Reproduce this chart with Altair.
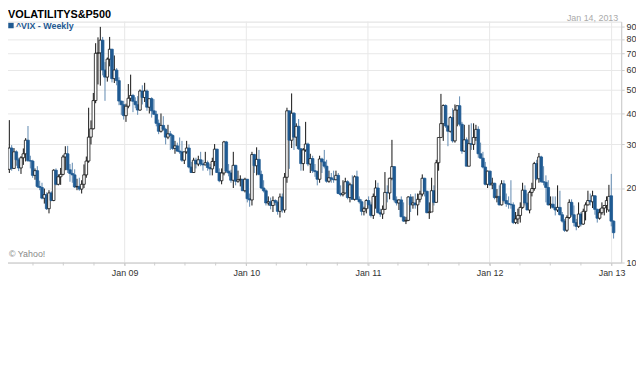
import altair as alt
import pandas as pd

# ---- weekly ^VIX candles (open, high, low, close) ----
first_week = "2008-01-21"

ohlc_2008 = [
    (23.8, 37.6, 23.0, 29.0), (29.0, 29.8, 23.5, 24.0), (24.0, 29.0, 23.9, 28.0),
    (28.0, 28.4, 24.6, 26.0), (26.0, 26.5, 23.4, 24.1), (24.1, 26.9, 22.8, 26.5),
    (26.5, 28.9, 24.8, 27.5), (27.5, 31.8, 25.6, 31.2), (31.2, 35.6, 25.5, 25.8),
    (25.8, 27.0, 24.0, 25.7), (25.7, 26.0, 22.0, 22.5), (22.5, 24.0, 21.6, 23.5),
    (23.5, 24.5, 20.0, 20.3), (20.3, 21.4, 19.6, 20.1), (20.1, 21.0, 18.0, 18.2),
    (18.2, 19.9, 17.3, 18.8), (18.8, 19.2, 16.3, 16.5), (16.5, 19.6, 15.8, 19.1),
    (19.1, 19.4, 17.7, 17.8), (17.8, 23.8, 17.7, 23.6), (23.6, 24.0, 20.5, 20.7),
    (20.7, 22.7, 20.5, 22.2), (22.2, 24.1, 20.6, 22.7), (22.7, 27.2, 22.5, 26.7),
    (26.7, 29.5, 23.6, 27.5), (27.5, 29.6, 23.0, 23.7), (23.7, 25.0, 21.2, 22.9),
    (22.9, 25.3, 21.0, 22.6), (22.6, 23.8, 20.0, 20.2), (20.2, 21.8, 19.6, 20.3),
    (20.3, 22.0, 19.5, 19.8), (19.8, 21.5, 19.0, 20.7), (20.7, 24.9, 20.0, 22.6),
    (22.6, 26.8, 22.0, 25.7), (25.7, 42.2, 25.3, 32.1), (32.1, 37.5, 30.0, 34.7),
    (34.7, 48.4, 34.5, 45.1), (45.1, 76.9, 44.0, 70.0), (70.0, 81.2, 52.4, 70.3),
    (70.3, 89.5, 51.8, 79.1), (79.1, 81.5, 57.0, 59.9), (59.9, 64.5, 45.0, 56.1),
    (56.1, 67.3, 53.8, 66.3), (66.3, 81.5, 62.0, 72.7), (72.7, 73.0, 53.4, 55.3),
    (55.3, 68.6, 53.1, 59.9), (59.9, 61.0, 52.0, 54.3), (54.3, 56.0, 43.2, 44.9),
    (44.9, 45.0, 39.5, 43.4), (43.4, 45.0, 37.8, 39.2),
]
ohlc_2009 = [
    (39.2, 43.8, 37.0, 42.8), (42.8, 52.6, 42.0, 46.1), (46.1, 57.4, 44.8, 47.3),
    (47.3, 48.0, 40.5, 44.8), (44.8, 46.5, 42.0, 43.4), (43.4, 47.0, 39.5, 41.3),
    (41.3, 50.0, 41.0, 49.3), (49.3, 52.0, 43.5, 46.4), (46.4, 53.2, 44.5, 49.3),
    (49.3, 50.0, 41.0, 42.4), (42.4, 46.0, 40.0, 45.9), (45.9, 46.5, 38.5, 41.0),
    (41.0, 45.7, 39.5, 39.7), (39.7, 41.0, 35.5, 36.5), (36.5, 37.8, 33.0, 33.9),
    (33.9, 40.0, 33.5, 35.8), (35.8, 39.0, 34.0, 34.5), (34.5, 35.0, 30.0, 32.1),
    (32.1, 36.0, 31.5, 33.1), (33.1, 34.0, 28.5, 32.6), (32.6, 33.0, 28.5, 28.9),
    (28.9, 31.0, 27.5, 29.6), (29.6, 30.5, 28.0, 28.2), (28.2, 32.0, 27.5, 28.0),
    (28.0, 31.0, 25.5, 25.9), (25.9, 28.0, 25.0, 28.0), (28.0, 31.0, 27.5, 29.0),
    (29.0, 30.0, 24.0, 24.3), (24.3, 25.5, 23.0, 23.1), (23.1, 26.5, 23.0, 25.9),
    (25.9, 26.5, 24.0, 25.0), (25.0, 27.0, 24.5, 26.0), (26.0, 28.0, 24.5, 25.0),
    (25.0, 26.0, 23.5, 24.8), (24.8, 28.0, 24.7, 25.3), (25.3, 25.8, 23.5, 24.2),
    (24.2, 25.0, 22.5, 23.9), (23.9, 26.5, 22.5, 25.6), (25.6, 30.1, 24.5, 28.7),
    (28.7, 28.8, 23.0, 23.1), (23.1, 24.0, 21.1, 21.4), (21.4, 24.0, 20.7, 23.0),
    (23.0, 31.0, 22.5, 30.7), (30.7, 31.0, 23.0, 23.4), (23.4, 25.0, 22.3, 23.0),
    (23.0, 23.7, 21.0, 21.5), (21.5, 28.0, 20.0, 24.7), (24.7, 24.8, 20.5, 21.3),
    (21.3, 23.5, 21.0, 21.6), (21.6, 22.5, 20.3, 21.7), (21.7, 21.7, 19.5, 19.5),
    (19.5, 22.0, 19.2, 21.7),
]
ohlc_2010 = [
    (21.7, 21.7, 17.5, 18.1), (18.1, 19.0, 16.8, 17.9), (17.9, 28.0, 17.0, 27.3),
    (27.3, 27.5, 23.0, 24.6), (24.6, 29.2, 22.5, 26.1), (26.1, 28.5, 22.5, 22.7),
    (22.7, 23.5, 19.8, 20.0), (20.0, 21.5, 19.2, 19.5), (19.5, 19.8, 17.0, 17.4),
    (17.4, 18.5, 17.0, 17.6), (17.6, 18.3, 16.4, 17.0), (17.0, 18.5, 16.0, 17.8),
    (17.8, 18.0, 17.0, 17.5), (17.5, 17.8, 15.6, 16.1), (16.1, 19.0, 15.2, 18.4),
    (18.4, 19.0, 15.9, 16.3), (16.3, 23.0, 15.9, 22.1), (22.1, 42.2, 21.0, 41.0),
    (41.0, 41.0, 23.9, 31.2), (31.2, 48.2, 29.0, 40.1), (40.1, 40.5, 28.5, 32.1),
    (32.1, 36.5, 29.5, 35.5), (35.5, 38.0, 28.5, 28.8), (28.8, 29.0, 23.5, 25.1),
    (25.1, 29.0, 23.5, 28.5), (28.5, 37.0, 28.0, 30.1), (30.1, 30.5, 24.5, 25.0),
    (25.0, 27.5, 23.0, 26.3), (26.3, 27.0, 23.0, 23.5), (23.5, 25.0, 22.2, 23.3),
    (23.3, 23.5, 20.5, 21.7), (21.7, 27.0, 21.0, 26.2), (26.2, 26.5, 23.0, 25.5),
    (25.5, 28.5, 24.0, 24.5), (24.5, 26.0, 21.0, 21.3), (21.3, 23.5, 21.0, 22.0),
    (22.0, 23.0, 21.0, 21.7), (21.7, 23.5, 21.0, 21.6), (21.6, 23.5, 21.5, 22.5),
    (22.5, 23.0, 18.9, 19.0), (19.0, 20.5, 18.5, 18.8), (18.8, 21.5, 18.5, 19.1),
    (19.1, 22.0, 19.0, 21.2), (21.2, 21.5, 18.0, 18.3), (18.3, 21.0, 17.5, 20.6),
    (20.6, 22.5, 18.0, 18.0), (18.0, 22.5, 17.8, 22.2), (22.2, 23.5, 17.9, 18.0),
    (18.0, 18.5, 17.3, 17.6), (17.6, 18.0, 15.5, 16.1), (16.1, 16.8, 15.5, 16.5),
    (16.5, 18.0, 15.8, 17.8),
]
ohlc_2011 = [
    (17.8, 18.5, 16.5, 17.1), (17.1, 17.5, 15.2, 15.5), (15.5, 19.0, 15.0, 18.5),
    (18.5, 21.5, 16.5, 20.0), (20.0, 21.0, 15.8, 15.9), (15.9, 16.5, 15.3, 15.7),
    (15.7, 17.0, 15.0, 16.4), (16.4, 23.2, 16.3, 19.2), (19.2, 20.5, 17.5, 19.1),
    (19.1, 22.0, 18.0, 21.9), (21.9, 31.3, 21.5, 24.4), (24.4, 24.5, 17.5, 17.9),
    (17.9, 18.5, 17.0, 17.4), (17.4, 18.0, 16.3, 17.9), (17.9, 18.5, 15.3, 15.3),
    (15.3, 17.5, 14.6, 14.7), (14.7, 15.3, 14.3, 14.8), (14.8, 18.5, 14.7, 18.4),
    (18.4, 18.9, 16.0, 17.1), (17.1, 18.5, 16.5, 17.4), (17.4, 19.0, 16.5, 17.1),
    (17.1, 19.0, 15.5, 18.0), (18.0, 19.5, 17.5, 18.9), (18.9, 22.7, 18.5, 21.9),
    (21.9, 22.0, 18.5, 19.4), (19.4, 19.5, 15.8, 15.9), (15.9, 17.5, 15.0, 16.0),
    (16.0, 22.0, 16.0, 19.5), (19.5, 20.5, 17.0, 17.5), (17.5, 26.0, 17.5, 25.3),
    (25.3, 32.0, 23.5, 32.0), (32.0, 48.0, 32.0, 36.4), (36.4, 43.5, 31.0, 43.1),
    (43.1, 43.5, 35.0, 35.6), (35.6, 36.0, 29.5, 33.9), (33.9, 39.0, 33.5, 38.5),
    (38.5, 42.0, 30.5, 31.0), (31.0, 43.5, 30.5, 41.3), (41.3, 43.0, 35.5, 43.0),
    (43.0, 46.9, 35.5, 36.2), (36.2, 37.0, 27.5, 28.2), (28.2, 36.0, 28.0, 31.3),
    (31.3, 32.0, 24.5, 24.5), (24.5, 36.0, 24.5, 30.2), (30.2, 36.5, 28.5, 30.0),
    (30.0, 36.5, 28.5, 32.0), (32.0, 36.0, 31.0, 34.5), (34.5, 35.5, 26.5, 27.5),
    (27.5, 30.5, 26.3, 26.4), (26.4, 28.0, 24.0, 24.3), (24.3, 25.5, 20.5, 20.7),
    (20.7, 23.5, 20.0, 23.4),
]
ohlc_2012 = [
    (23.4, 23.5, 20.4, 20.6), (20.6, 22.0, 19.8, 20.9), (20.9, 21.0, 18.0, 18.3),
    (18.3, 19.8, 17.5, 18.5), (18.5, 20.5, 17.0, 17.1), (17.1, 21.5, 17.0, 20.8),
    (20.8, 21.5, 17.5, 17.8), (17.8, 19.0, 16.8, 17.3), (17.3, 18.5, 16.5, 17.2),
    (17.2, 21.5, 16.5, 17.1), (17.1, 17.5, 14.3, 14.5), (14.5, 16.0, 14.3, 15.0),
    (15.0, 16.5, 14.3, 15.5), (15.5, 17.5, 14.5, 16.7), (16.7, 21.0, 16.5, 19.6),
    (19.6, 20.5, 17.0, 17.4), (17.4, 19.0, 16.3, 16.3), (16.3, 19.5, 15.8, 19.2),
    (19.2, 21.0, 18.5, 19.9), (19.9, 25.5, 19.5, 25.1), (25.1, 26.0, 21.5, 21.8),
    (21.8, 27.7, 21.0, 26.7), (26.7, 27.0, 21.0, 21.2), (21.2, 24.5, 20.5, 21.1),
    (21.1, 22.5, 17.5, 20.1), (20.1, 21.5, 17.0, 17.1), (17.1, 18.5, 16.5, 17.2),
    (17.2, 18.5, 16.5, 16.7), (16.7, 18.5, 15.5, 16.3), (16.3, 20.5, 16.0, 16.7),
    (16.7, 19.5, 15.5, 15.6), (15.6, 16.0, 14.5, 14.7), (14.7, 15.0, 13.3, 13.5),
    (13.5, 15.5, 13.3, 15.2), (15.2, 18.0, 15.0, 17.5), (17.5, 18.0, 15.3, 15.6),
    (15.6, 17.0, 14.0, 14.5), (14.5, 15.0, 13.5, 14.0), (14.0, 17.5, 13.8, 15.7),
    (15.7, 16.0, 14.0, 14.3), (14.3, 16.5, 14.2, 16.1), (16.1, 17.5, 14.8, 17.1),
    (17.1, 19.5, 17.0, 17.8), (17.8, 19.0, 17.0, 17.6), (17.6, 19.5, 16.6, 18.6),
    (18.6, 18.7, 15.6, 16.4), (16.4, 16.5, 14.5, 15.1), (15.1, 16.5, 14.9, 15.9),
    (15.9, 17.5, 15.6, 16.6), (16.6, 17.0, 15.5, 17.0), (17.0, 18.5, 15.9, 17.8),
    (16.3, 20.6, 16.0, 18.5), (18.6, 22.8, 14.0, 14.7),
]
ohlc_2013 = [
    (14.7, 14.8, 12.5, 13.2),
]

y_ticks = [10, 20, 30, 40, 50, 60, 70, 80, 90]
year_starts = ["2009-01-01", "2010-01-01", "2011-01-01", "2012-01-01", "2013-01-01"]
quarter_starts = [
    "2008-04-01", "2008-07-01", "2008-10-01", "2009-01-01",
    "2009-04-01", "2009-07-01", "2009-10-01", "2010-01-01",
    "2010-04-01", "2010-07-01", "2010-10-01", "2011-01-01",
    "2011-04-01", "2011-07-01", "2011-10-01", "2012-01-01",
    "2012-04-01", "2012-07-01", "2012-10-01", "2013-01-01",
]
title_text = "VOLATILITYS&P500"
series_text = "^VIX - Weekly"
date_text = "Jan 14, 2013"
credit_text = "\u00a9 Yahoo!"

rows = ohlc_2008 + ohlc_2009 + ohlc_2010 + ohlc_2011 + ohlc_2012 + ohlc_2013
df = pd.DataFrame(rows, columns=["open", "high", "low", "close"])
df["date"] = pd.date_range(first_week, periods=len(df), freq="7D").strftime("%Y-%m-%d")
df["dir"] = ["up" if c >= o else "down" for o, c in zip(df["open"], df["close"])]

W, H = 626, 244
BLUE = "#1f5a92"
FONT = "Liberation Sans"

xscale = alt.Scale(domain=["2008-01-17", "2013-01-15"])
yscale = alt.Scale(type="log", domain=[10, 94], nice=False)

xaxis = alt.Axis(
    values=[alt.DateTime(year=y, month=1, date=1) for y in range(2009, 2014)],
    format="%b %y", title=None, tickSize=3, tickColor="#cccccc",
    domainColor="#cccccc", labelFont=FONT, labelFontSize=9, labelColor="#333333",
    grid=False, labelPadding=3, labelFlush=False, labelOverlap=False,
)
yaxis = alt.Axis(
    orient="right", values=y_ticks, title=None, tickSize=3, tickColor="#cccccc",
    domainColor="#cccccc", labelFont=FONT, labelFontSize=9, labelColor="#333333",
    grid=True, gridColor="#e8e8e8", labelPadding=2, format="d",
)

vgrid = alt.Chart(pd.DataFrame({"d": year_starts})).mark_rule(
    color="#e8e8e8", strokeWidth=1).encode(
    x=alt.X("d:T", scale=xscale, axis=xaxis))

qticks = alt.Chart(pd.DataFrame({"d": quarter_starts})).mark_rule(
    color="#cccccc", strokeWidth=1).encode(
    x=alt.X("d:T", scale=xscale), y=alt.value(H), y2=alt.value(H + 3))

base = alt.Chart(df)

wicks = base.mark_rule(strokeWidth=1).encode(
    x=alt.X("date:T", scale=xscale),
    y=alt.Y("low:Q", scale=yscale, axis=yaxis),
    y2="high:Q",
    color=alt.Color("dir:N", scale=alt.Scale(domain=["up", "down"],
                                             range=["#111111", "#5f88b0"]), legend=None),
)

bodies = base.mark_bar(size=2.6, strokeWidth=0.8).encode(
    x=alt.X("date:T", scale=xscale),
    y=alt.Y("open:Q", scale=yscale),
    y2="close:Q",
    fill=alt.Fill("dir:N", scale=alt.Scale(domain=["up", "down"],
                                           range=["#ffffff", BLUE]), legend=None),
    stroke=alt.Stroke("dir:N", scale=alt.Scale(domain=["up", "down"],
                                               range=["#111111", BLUE]), legend=None),
)

frame = alt.Chart(pd.DataFrame({"k": [0]})).mark_rule(color="#cccccc").encode(
    x=alt.value(0), y=alt.value(0), y2=alt.value(H))

def label(txt, **kw):
    return alt.Chart(pd.DataFrame({"t": [txt]})).mark_text(font=FONT, **kw).encode(text="t:N")

title = label(title_text, fontSize=11, fontWeight="bold", color="#000000",
              align="left", baseline="alphabetic").encode(x=alt.value(5), y=alt.value(-4))
swatch = alt.Chart(pd.DataFrame({"k": [0]})).mark_square(size=30, color=BLUE, opacity=1).encode(
    x=alt.value(8), y=alt.value(4))
series = label(series_text, fontSize=9, fontWeight="bold", color=BLUE,
               align="left", baseline="middle").encode(x=alt.value(13), y=alt.value(4))
date_lbl = label(date_text, fontSize=9, color="#aaaaaa",
                 align="right", baseline="middle").encode(x=alt.value(623), y=alt.value(-4))
credit = label(credit_text, fontSize=9, color="#888888",
               align="left", baseline="middle").encode(x=alt.value(6), y=alt.value(235))

chart = alt.layer(vgrid, qticks, frame, wicks, bodies, credit, title, swatch, series,
                  date_lbl).properties(
    width=W, height=H,
    autosize=alt.AutoSizeParams(type="none"),
    padding={"left": -5, "top": 12, "right": 15, "bottom": 24},
).configure_view(stroke=None).configure(background="#ffffff")

chart.save("out.html", embed_options={"renderer": "svg", "actions": False})
